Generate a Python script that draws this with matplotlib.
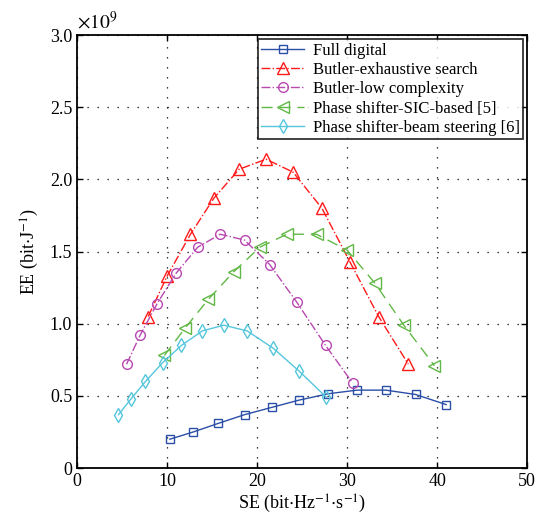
import matplotlib
matplotlib.use('Agg')
import matplotlib.pyplot as plt

plt.rcParams['font.family'] = ['Liberation Serif', 'DejaVu Serif']
plt.rcParams['mathtext.fontset'] = 'stix'

# SE (bit/Hz/s) and EE (x1e9 bit/J) for each scheme
fd_x = [10.3, 12.9, 15.7, 18.6, 21.6, 24.6, 27.9, 31.1, 34.3, 37.6, 41.0]
fd_y = [0.20, 0.25, 0.31, 0.37, 0.42, 0.47, 0.515, 0.54, 0.54, 0.51, 0.44]

be_x = [7.9, 10.0, 12.6, 15.2, 18.0, 21.0, 24.0, 27.2, 30.3, 33.5, 36.8]
be_y = [1.05, 1.33, 1.62, 1.87, 2.07, 2.14, 2.05, 1.80, 1.43, 1.05, 0.72]

bl_x = [5.5, 7.0, 8.9, 11.0, 13.4, 15.9, 18.6, 21.4, 24.4, 27.6, 30.6]
bl_y = [0.72, 0.92, 1.14, 1.35, 1.53, 1.62, 1.58, 1.41, 1.15, 0.85, 0.59]

ps_x = [9.7, 12.0, 14.6, 17.4, 20.3, 23.3, 26.6, 30.0, 33.1, 36.3, 39.7]
ps_y = [0.78, 0.97, 1.17, 1.36, 1.53, 1.62, 1.62, 1.51, 1.28, 0.99, 0.71]

pb_x = [4.6, 6.0, 7.6, 9.5, 11.6, 13.9, 16.3, 18.9, 21.8, 24.7, 27.7]
pb_y = [0.37, 0.48, 0.60, 0.73, 0.85, 0.95, 0.99, 0.95, 0.83, 0.67, 0.49]

labels = ['Full digital', 'Butler-exhaustive search', 'Butler-low complexity',
          'Phase shifter-SIC-based [5]', 'Phase shifter-beam steering [6]']

fig = plt.figure(figsize=(5.39, 5.23), dpi=100)
ax = fig.add_axes([0.143, 0.105, 0.835, 0.828])

ax.plot(fd_x, fd_y, color='#2b4ea6', ls='-', lw=1, marker='s', ms=6, mfc='none', mew=1, label=labels[0])
ax.plot(be_x, be_y, color='#ff1a1a', ls='-.', lw=1, marker='^', ms=8, mfc='none', mew=1, label=labels[1])
ax.plot(bl_x, bl_y, color='#b848b0', ls='-.', lw=1, marker='o', ms=7, mfc='none', mew=1, label=labels[2])
ax.plot(ps_x, ps_y, color='#62b846', ls=(0, (8, 5)), lw=1, marker='<', ms=8, mfc='none', mew=1, label=labels[3])
ax.plot(pb_x, pb_y, color='#55c6dc', ls='-', lw=1, marker='d', ms=7, mfc='none', mew=1, label=labels[4])

ax.set_xlim(0, 50)
ax.set_ylim(0, 3.0)
ax.set_xticks([0, 10, 20, 30, 40, 50])
ax.set_yticks([0, 0.5, 1.0, 1.5, 2.0, 2.5, 3.0])
ax.set_yticklabels(['0', '0.5', '1.0', '1.5', '2.0', '2.5', '3.0'])
ax.tick_params(direction='in', top=True, right=True, labelsize=13, length=4, width=1)
ax.grid(True, color='black', ls=(0, (1, 7)), lw=0.9)
for s in ax.spines.values():
    s.set_linewidth(1.3)

ax.set_xlabel(r'SE (bit$\cdot$Hz$^{-1}$$\cdot$s$^{-1}$)', fontsize=13, labelpad=2)
ax.set_ylabel(r'EE (bit$\cdot$J$^{-1}$)', fontsize=13, labelpad=6)
ax.text(0.0, 1.005, r'$\times10^{9}$', transform=ax.transAxes, fontsize=14, ha='left', va='bottom')

leg = ax.legend(loc='upper right', fontsize=12, frameon=True, fancybox=False,
                edgecolor='black', borderpad=0.2, labelspacing=0.2, handlelength=2.6,
                handletextpad=0.5, borderaxespad=0.25)
leg.get_frame().set_linewidth(1.3)

plt.savefig('out.png', dpi=100)
